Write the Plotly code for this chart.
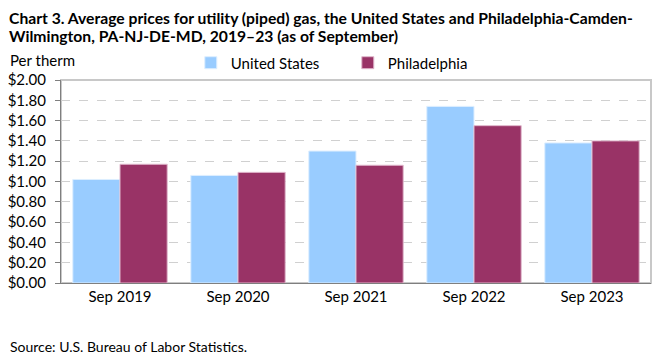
import plotly.graph_objects as go

categories = ["Sep 2019", "Sep 2020", "Sep 2021", "Sep 2022", "Sep 2023"]
us_values = [1.02, 1.06, 1.30, 1.74, 1.38]
phil_values = [1.17, 1.09, 1.16, 1.55, 1.40]
y_ticks = [0, 0.2, 0.4, 0.6, 0.8, 1.0, 1.2, 1.4, 1.6, 1.8, 2.0]
y_tick_labels = ["$%.2f" % v for v in y_ticks]

FONT = "Lato, 'Open Sans', sans-serif"

fig = go.Figure()
fig.add_trace(go.Bar(x=categories, y=us_values, name="United States",
                     marker=dict(color="#99CCFF", line=dict(color="#DDEEFF", width=1))))
fig.add_trace(go.Bar(x=categories, y=phil_values, name="Philadelphia",
                     marker=dict(color="#993366", line=dict(color="#E0B8CC", width=1))))

# page body adds an 8px offset, so figure is 8px smaller and margins shifted
fig.update_layout(
    width=653, height=349,
    margin=dict(l=53, r=10, t=72, b=74),
    paper_bgcolor="white", plot_bgcolor="white",
    font=dict(family=FONT, size=14, color="#000000"),
    barmode="group", bargap=0.2, bargroupgap=0,
    showlegend=True,
    legend=dict(orientation="h", x=0.22, y=1.084, xanchor="left", yanchor="middle",
                font=dict(size=15), itemwidth=30, entrywidth=112, traceorder="normal",
                bgcolor="rgba(0,0,0,0)"),
    xaxis=dict(showline=True, linecolor="#7F7F7F", linewidth=1, ticks="",
               tickfont=dict(size=15), showgrid=False, automargin=False),
    yaxis=dict(range=[0, 2.0], tickvals=y_ticks, ticktext=y_tick_labels,
               showline=True, linecolor="#7F7F7F", linewidth=1,
               ticks="outside", ticklen=5, tickcolor="#7F7F7F", ticklabelstandoff=6,
               showgrid=True, gridcolor="#D0D0D0", griddash="dash", gridwidth=1,
               zeroline=False, tickfont=dict(size=15), automargin=False),
    shapes=[dict(type="rect", xref="paper", yref="paper", x0=0, x1=1, y0=0, y1=1,
                 line=dict(color="#C8C8C8", width=2), layer="below")],
    annotations=[
        dict(text="<b>Chart 3. Average prices for utility (piped) gas, the United States and Philadelphia-Camden-</b>",
             xref="paper", yref="paper", x=-0.089, y=1.305, xanchor="left", yanchor="middle",
             align="left", showarrow=False, borderpad=0, font=dict(size=15.7)),
        dict(text="<b>Wilmington, PA-NJ-DE-MD, 2019–23 (as of September)</b>",
             xref="paper", yref="paper", x=-0.089, y=1.217, xanchor="left", yanchor="middle",
             align="left", showarrow=False, borderpad=0, font=dict(size=15.7)),
        dict(text="Per therm", xref="paper", yref="paper", x=-0.089, y=1.099,
             xanchor="left", yanchor="middle", showarrow=False, font=dict(size=15)),
        dict(text="Source: U.S. Bureau of Labor Statistics.", xref="paper", yref="paper",
             x=-0.089, y=-0.315, xanchor="left", yanchor="middle", showarrow=False,
             font=dict(size=14)),
    ],
)

fig.write_html("out.html")
